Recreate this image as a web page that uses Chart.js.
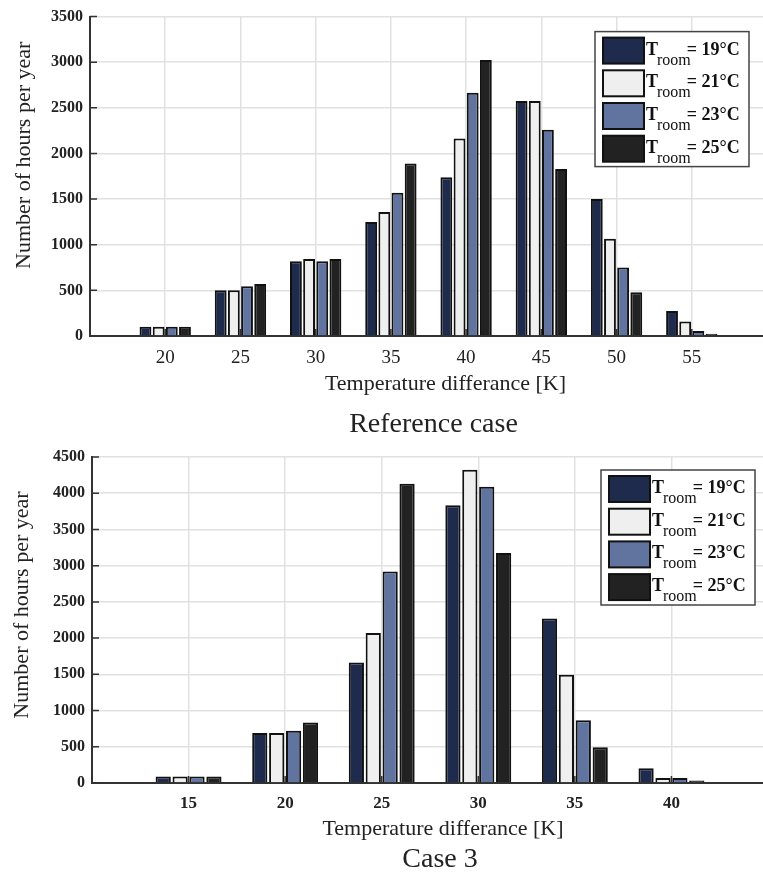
<!DOCTYPE html>
<html>
<head>
<meta charset="utf-8">
<script src="https://cdn.jsdelivr.net/npm/chart.js@4.4.0/dist/chart.umd.min.js"></script>
<style>
  html, body { margin: 0; padding: 0; background: #fff; overflow: hidden; width: 763px; height: 877px; }
  canvas { display: block; }
</style>
</head>
<body>
<canvas id="refCase" width="778" height="440"></canvas>
<canvas id="case3" width="778" height="437"></canvas>
<script>
// room temperatures (legend) and bar colours
var roomTemps = ["19", "21", "23", "25"];
var barColors = ["#1f2b4d", "#efefef", "#61749f", "#222222"];

// Reference case: temperature difference [K] vs hours per year
var refCats = ["15", "20", "25", "30", "35", "40", "45", "50", "55", "60"];
var refT19 = [null, 100, 500, 820, 1250, 1740, 2575, 1500, 275, null];
var refT21 = [null, 100, 500, 845, 1360, 2165, 2575, 1065, 160, null];
var refT23 = [null, 100, 545, 820, 1570, 2665, 2260, 750, 55, null];
var refT25 = [null, 100, 570, 845, 1890, 3025, 1830, 480, 25, null];
var refYMax = 3500;

// Case 3
var c3Cats = ["10", "15", "20", "25", "30", "35", "40", "45"];
var c3T19 = [null, 90, 690, 1665, 3835, 2270, 205, null];
var c3T21 = [null, 90, 690, 2070, 4325, 1495, 70, null];
var c3T23 = [null, 90, 720, 2920, 4090, 865, 70, null];
var c3T25 = [null, 90, 835, 4130, 3175, 495, 35, null];
var c3YMax = 4500;

var yStep = 500;
var serif = "'Liberation Serif', 'DejaVu Serif', serif";

// short dark ticks drawn inside the plot, like the matlab axes
var innerTicks = {
  id: "innerTicks",
  beforeDatasetsDraw: function (chart) {
    var ctx = chart.ctx, a = chart.chartArea;
    var xs = chart.scales.x, ys = chart.scales.y;
    ctx.save();
    ctx.strokeStyle = "#333";
    ctx.lineWidth = 1.5;
    ctx.beginPath();
    ys.ticks.forEach(function (t, i) {
      var py = ys.getPixelForTick(i);
      ctx.moveTo(a.left, py);
      ctx.lineTo(a.left + 7, py);
    });
    xs.ticks.forEach(function (t, i) {
      var px = xs.getPixelForTick(i);
      ctx.moveTo(px, a.bottom);
      ctx.lineTo(px, a.bottom - 7);
    });
    ctx.stroke();
    ctx.restore();
  }
};

// axis titles and caption under each plot
var figText = {
  id: "figText",
  afterDraw: function (chart, args, o) {
    var ctx = chart.ctx, a = chart.chartArea;
    var cx = (a.left + a.right) / 2;
    ctx.save();
    ctx.fillStyle = "#222";
    ctx.textAlign = "center";
    ctx.textBaseline = "middle";
    ctx.font = "22px " + serif;
    ctx.fillText(o.xTitle, cx + o.xShift, a.bottom + o.xTitleGap);
    ctx.font = "28px " + serif;
    ctx.fillText(o.caption, cx + o.capShift, a.bottom + o.captionGap);
    ctx.translate(o.yTitleX, (a.top + a.bottom) / 2 + o.yShift);
    ctx.rotate(-Math.PI / 2);
    ctx.font = "22px " + serif;
    ctx.fillText(o.yTitle, 0, 0);
    ctx.restore();
  }
};

// legend with T_room subscripts
var roomLegend = {
  id: "roomLegend",
  afterDraw: function (chart, args, o) {
    var ctx = chart.ctx, a = chart.chartArea;
    var bw = 154, bh = 135;
    var bx = a.right - o.right - bw, by = a.top + o.top;
    ctx.save();
    ctx.fillStyle = "#fff";
    ctx.fillRect(bx, by, bw, bh);
    ctx.strokeStyle = "#444";
    ctx.lineWidth = 1.5;
    ctx.strokeRect(bx, by, bw, bh);
    chart.data.datasets.forEach(function (ds, i) {
      var sy = by + 6 + i * 32.7;
      var sx = bx + 8;
      ctx.fillStyle = ds.backgroundColor;
      ctx.fillRect(sx, sy, 41, 26);
      ctx.strokeStyle = "#111";
      ctx.lineWidth = 2;
      ctx.strokeRect(sx, sy, 41, 26);
      ctx.fillStyle = "#111";
      ctx.textAlign = "left";
      ctx.textBaseline = "alphabetic";
      var tx = sx + 43;
      ctx.font = "bold 18px " + serif;
      ctx.fillText("T", tx, sy + 17);
      tx += ctx.measureText("T").width - 1;
      ctx.font = "16px " + serif;
      ctx.fillText("room", tx, sy + 27);
      tx += ctx.measureText("room").width - 4;
      ctx.font = "bold 18px " + serif;
      ctx.fillText("= " + ds.label + "\u00b0C", tx, sy + 17);
    });
    ctx.restore();
  }
};

function makeDatasets(series) {
  return series.map(function (values, i) {
    return {
      label: roomTemps[i],
      data: values,
      backgroundColor: barColors[i],
      borderColor: "#111",
      borderWidth: 2,
      categoryPercentage: 0.7,
      barPercentage: 0.9
    };
  });
}

function drawCase(id, cats, series, yMax, lay) {
  new Chart(document.getElementById(id), {
    type: "bar",
    data: { labels: cats, datasets: makeDatasets(series) },
    options: {
      responsive: false,
      animation: false,
      layout: { padding: { top: lay.top, right: lay.right, left: 0, bottom: 0 } },
      plugins: {
        legend: { display: false },
        tooltip: { enabled: false },
        figText: lay.text,
        roomLegend: lay.legend
      },
      scales: {
        x: {
          offset: false,
          grid: { offset: false, color: "#e1e1e1", lineWidth: 1.5, drawTicks: false },
          border: { color: "#333", width: 2 },
          ticks: {
            autoSkip: false,
            maxRotation: 0,
            padding: lay.xPad,
            color: "#222",
            font: lay.xFont,
            callback: function (v, i) {
              return i === 0 || i === cats.length - 1 ? "" : cats[i];
            }
          },
          afterFit: function (s) { s.height = lay.xHeight; }
        },
        y: {
          min: 0,
          max: yMax,
          grid: { color: "#e1e1e1", lineWidth: 1.5, drawTicks: false },
          border: { color: "#333", width: 2 },
          ticks: {
            stepSize: yStep,
            padding: 7,
            color: "#222",
            font: { family: serif, size: 16, weight: "bold" },
            callback: function (v) { return String(v); }
          },
          afterFit: function (s) { s.width = lay.yWidth; }
        }
      }
    },
    plugins: [innerTicks, figText, roomLegend]
  });
}

drawCase("refCase", refCats, [refT19, refT21, refT23, refT25], refYMax, {
  top: 14, right: 7, yWidth: 90, xHeight: 104, xPad: 11,
  xFont: { family: serif, size: 19 },
  text: { xTitle: "Temperature differance [K]", caption: "Reference case", yTitle: "Number of hours per year",
          xShift: 17, capShift: 5, xTitleGap: 48, captionGap: 89, yTitleX: 24, yShift: -21 },
  legend: { right: 18, top: 15 }
});

drawCase("case3", c3Cats, [c3T19, c3T21, c3T23, c3T25], c3YMax, {
  top: 17, right: 4, yWidth: 92, xHeight: 94, xPad: 10,
  xFont: { family: serif, size: 17, weight: "bold" },
  text: { xTitle: "Temperature differance [K]", caption: "Case 3", yTitle: "Number of hours per year",
          xShift: 13, capShift: 10, xTitleGap: 46, captionGap: 77, yTitleX: 22, yShift: -15 },
  legend: { right: 13, top: 13 }
});
</script>
</body>
</html>
